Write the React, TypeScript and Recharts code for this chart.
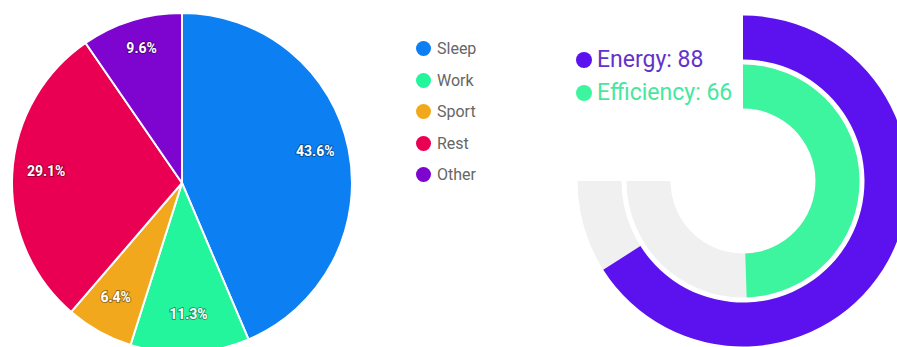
import { Cell, Pie, PieChart, PolarAngleAxis, RadialBar, RadialBarChart } from 'recharts';

const activities = ['Sleep', 'Work', 'Sport', 'Rest', 'Other'];
const shares = [43.6, 11.3, 6.4, 29.1, 9.6];
const activityColors = ['#0c7ff2', '#22f59b', '#f2a81c', '#e90052', '#7e04d0'];

const metrics = ['Efficiency', 'Energy'];
const metricValues = [66, 88];
const metricColors = ['#3df59e', '#5b12ef'];
const metricTextColors = ['#45e89e', '#6233cc'];

const pieData = activities.map((name, i) => ({ name, value: shares[i] }));
const radialData = metrics.map((name, i) => ({ name, value: metricValues[i] }));

const RADIAN = Math.PI / 180;
const noMargin = { top: 0, right: 0, bottom: 0, left: 0 };

function PieLabel(props: any) {
    const { cx, cy, midAngle, outerRadius, percent } = props;
    const r = outerRadius * 0.8;
    const x = cx + r * Math.cos(-midAngle * RADIAN);
    const y = cy + r * Math.sin(-midAngle * RADIAN);
    return (
        <text
            x={x}
            y={y}
            textAnchor="middle"
            fill="#fff"
            stroke="rgba(0,0,0,0.35)"
            strokeWidth={2}
            paintOrder="stroke"
            fontSize={14}
            fontWeight="bold"
            fontFamily="Roboto, sans-serif"
        >
            {`${(percent * 100).toFixed(1)}%`}
        </text>
    );
}

export default function App() {
    return (
        <div
            style={{
                position: 'absolute',
                left: 0,
                top: 0,
                width: 897,
                height: 347,
                overflow: 'hidden',
                background: '#fff',
                fontFamily: 'Roboto, sans-serif',
            }}
        >
            <div style={{ position: 'absolute', left: 0, top: 0 }}>
                <PieChart width={370} height={347} margin={noMargin}>
                    <Pie
                        data={pieData}
                        dataKey="value"
                        nameKey="name"
                        cx={182}
                        cy={183}
                        outerRadius={170}
                        startAngle={90}
                        endAngle={-270}
                        stroke="#fff"
                        strokeWidth={2}
                        label={PieLabel}
                        labelLine={false}
                        isAnimationActive={false}
                    >
                        {pieData.map((d, i) => (
                            <Cell key={d.name} fill={activityColors[i]} />
                        ))}
                    </Pie>
                </PieChart>
            </div>

            <div style={{ position: 'absolute', left: 416, top: 33 }}>
                {pieData.map((d, i) => (
                    <div
                        key={d.name}
                        style={{ display: 'flex', alignItems: 'center', height: 31.5 }}
                    >
                        <span
                            style={{
                                width: 15,
                                height: 15,
                                borderRadius: '50%',
                                background: activityColors[i],
                                marginRight: 6,
                            }}
                        />
                        <span style={{ fontSize: 16, color: '#666' }}>{d.name}</span>
                    </div>
                ))}
            </div>

            <div style={{ position: 'absolute', left: 560, top: 0 }}>
                <RadialBarChart
                    width={337}
                    height={347}
                    margin={noMargin}
                    cx={183}
                    cy={181}
                    data={radialData}
                    innerRadius={69.5}
                    outerRadius={167.5}
                    barSize={44}
                    startAngle={90}
                    endAngle={-180}
                >
                    <PolarAngleAxis type="number" domain={[0, 100]} tick={false} axisLine={false} />
                    <RadialBar
                        dataKey="value"
                        background={{ fill: '#f0f0f0' }}
                        isAnimationActive={false}
                    >
                        {radialData.map((d, i) => (
                            <Cell key={d.name} fill={metricColors[i]} />
                        ))}
                    </RadialBar>
                </RadialBarChart>
            </div>

            <div style={{ position: 'absolute', left: 576, top: 43 }}>
                {[1, 0].map((i) => (
                    <div
                        key={metrics[i]}
                        style={{ display: 'flex', alignItems: 'center', height: 33 }}
                    >
                        <span
                            style={{
                                width: 16,
                                height: 16,
                                borderRadius: '50%',
                                background: metricColors[i],
                                marginRight: 5,
                            }}
                        />
                        <span style={{ fontSize: 23, color: metricTextColors[i] }}>
                            {`${metrics[i]}: ${metricValues[i]}`}
                        </span>
                    </div>
                ))}
            </div>
        </div>
    );
}
